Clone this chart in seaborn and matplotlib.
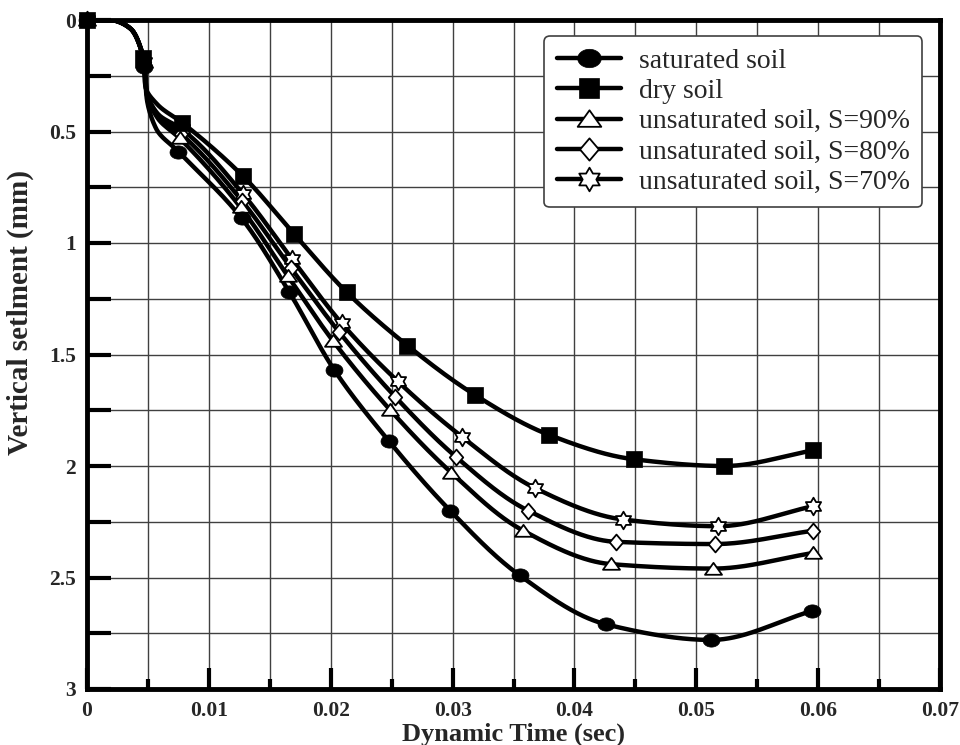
import numpy as np
import pandas as pd
import matplotlib
matplotlib.use("Agg")
import matplotlib.pyplot as plt
from matplotlib.lines import Line2D
from matplotlib.path import Path
from matplotlib.ticker import MultipleLocator, FuncFormatter
import seaborn as sns

# ---------------- data ----------------
labels = ["saturated soil", "dry soil", "unsaturated soil, S=90%",
          "unsaturated soil, S=80%", "unsaturated soil, S=70%"]

# marker points (time in s, settlement in mm)
sat_x = [0, 0.0047, 0.0075, 0.0127, 0.0166, 0.0203, 0.0248, 0.0298, 0.0355, 0.0426, 0.0512, 0.0595]
sat_y = [0, 0.21, 0.59, 0.89, 1.22, 1.57, 1.89, 2.20, 2.49, 2.71, 2.78, 2.65]
dry_x = [0, 0.0046, 0.0078, 0.0128, 0.0170, 0.0213, 0.0263, 0.0318, 0.0379, 0.0449, 0.0523, 0.0596]
dry_y = [0, 0.17, 0.46, 0.70, 0.96, 1.22, 1.46, 1.68, 1.86, 1.97, 2.00, 1.93]
s90_x = [0, 0.0047, 0.0076, 0.0126, 0.0165, 0.0202, 0.0249, 0.0299, 0.0358, 0.0430, 0.0514, 0.0596]
s90_y = [0, 0.19, 0.53, 0.84, 1.15, 1.44, 1.75, 2.03, 2.29, 2.44, 2.46, 2.39]
s80_x = [0, 0.0047, 0.0077, 0.0127, 0.0167, 0.0207, 0.0253, 0.0303, 0.0362, 0.0434, 0.0515, 0.0596]
s80_y = [0, 0.19, 0.51, 0.81, 1.11, 1.40, 1.69, 1.96, 2.20, 2.34, 2.35, 2.29]
s70_x = [0, 0.0047, 0.0078, 0.0128, 0.0168, 0.0209, 0.0255, 0.0308, 0.0368, 0.0440, 0.0518, 0.0596]
s70_y = [0, 0.19, 0.49, 0.78, 1.07, 1.36, 1.62, 1.87, 2.10, 2.24, 2.27, 2.18]

# extra traced line points (unmarked part of the curves)
onset_x = [0.0019, 0.0036, 0.0043]        # shared onset of settlement
onset_y = [0.0, 0.04, 0.11]
knee_x = {"sat": [0.0049, 0.0057], "dry": [0.0048, 0.0058], "s90": [0.0049, 0.0058],
          "s80": [0.0049, 0.0058], "s70": [0.0049, 0.0058]}
knee_y = {"sat": [0.35, 0.49], "dry": [0.30, 0.38], "s90": [0.33, 0.44],
          "s80": [0.33, 0.43], "s70": [0.32, 0.42]}

series = {
    "sat": (sat_x, sat_y),
    "dry": (dry_x, dry_y),
    "s90": (s90_x, s90_y),
    "s80": (s80_x, s80_y),
    "s70": (s70_x, s70_y),
}
keys = ["sat", "dry", "s90", "s80", "s70"]

# ---------------- helpers: shape-preserving smoothing of a traced line ----------------
def pchip_slopes(t, v):
    t = np.asarray(t, float); v = np.asarray(v, float)
    h = np.diff(t); d = np.diff(v) / h
    n = len(t); m = np.zeros(n)
    for k in range(1, n - 1):
        if d[k - 1] * d[k] <= 0:
            m[k] = 0.0
        else:
            w1 = 2 * h[k] + h[k - 1]; w2 = h[k] + 2 * h[k - 1]
            m[k] = (w1 + w2) / (w1 / d[k - 1] + w2 / d[k])
    m[0] = d[0]; m[-1] = d[-1]
    return m

def pchip_eval(t, v, ts):
    t = np.asarray(t, float); v = np.asarray(v, float)
    m = pchip_slopes(t, v)
    idx = np.clip(np.searchsorted(t, ts) - 1, 0, len(t) - 2)
    h = t[idx + 1] - t[idx]
    s = (ts - t[idx]) / h
    h00 = 2 * s**3 - 3 * s**2 + 1; h10 = s**3 - 2 * s**2 + s
    h01 = -2 * s**3 + 3 * s**2; h11 = s**3 - s**2
    return h00 * v[idx] + h10 * h * m[idx] + h01 * v[idx + 1] + h11 * h * m[idx + 1]

def smooth(x, y, n=600):
    x = np.asarray(x, float); y = np.asarray(y, float)
    X = x / 0.07 * 853; Y = y / 3 * 669
    t = np.concatenate([[0], np.cumsum(np.hypot(np.diff(X), np.diff(Y)))])
    ts = np.linspace(0, t[-1], n)
    return pchip_eval(t, x, ts), pchip_eval(t, y, ts)

rows = []
for k in keys:
    mx, my = series[k]
    lx = [mx[0]] + onset_x + [mx[1]] + knee_x[k] + list(mx[2:])
    ly = [my[0]] + onset_y + [my[1]] + knee_y[k] + list(my[2:])
    sx, sy = smooth(lx, ly)
    rows.append(pd.DataFrame({"x": sx, "y": sy, "series": k}))
curves = pd.concat(rows, ignore_index=True)

# ---------------- marker shapes (closed paths) ----------------
def closed(verts):
    verts = list(verts) + [verts[0]]
    return Path(verts, closed=True)

ang = np.linspace(0, 2 * np.pi, 40, endpoint=False)
ellipse = closed(list(zip(np.cos(ang), 0.78 * np.sin(ang))))
triangle = closed([(-1, -0.62), (1, -0.62), (0, 0.78)])
diamond = closed([(0, 1), (0.85, 0), (0, -1), (-0.85, 0)])
star_v = []
for i in range(12):
    a = np.pi / 2 + i * np.pi / 6
    r = 1.0 if i % 2 == 0 else 0.58
    star_v.append((r * np.cos(a), r * np.sin(a)))
star = closed(star_v)

style = {
    "sat": dict(marker=ellipse, s=150, fc="black", lw=0.5),
    "dry": dict(marker="s", s=120, fc="black", lw=0.5),
    "s90": dict(marker=triangle, s=150, fc="white", lw=1.3),
    "s80": dict(marker=diamond, s=130, fc="white", lw=1.3),
    "s70": dict(marker=star, s=160, fc="white", lw=1.3),
}
leg_ms = {"sat": 17, "dry": 15, "s90": 17, "s80": 16, "s70": 17}

# ---------------- plot ----------------
sns.set_theme(style="white")
plt.rcParams["font.family"] = ["Liberation Serif", "DejaVu Serif"]

fig = plt.figure(figsize=(9.6, 7.45), dpi=100)
ax = fig.add_axes([87 / 960, 1 - 689 / 745, 853 / 960, 669 / 745])

sns.lineplot(data=curves, x="x", y="y", units="series", estimator=None, sort=False,
             color="black", lw=3.2, legend=False, ax=ax, zorder=3)

draw_order = ["s70", "s80", "s90", "sat", "dry"]
for k in draw_order:
    mx, my = series[k]
    st = style[k]
    sns.scatterplot(x=mx, y=my, marker=st["marker"], s=st["s"], color=st["fc"],
                    edgecolor="black", linewidth=st["lw"], ax=ax, zorder=4,
                    clip_on=False, legend=False)

ax.set_xlim(0, 0.07)
ax.set_ylim(3, 0)
ax.xaxis.set_major_locator(MultipleLocator(0.01))
ax.xaxis.set_minor_locator(MultipleLocator(0.005))
ax.yaxis.set_major_locator(MultipleLocator(0.5))
ax.yaxis.set_minor_locator(MultipleLocator(0.25))
fmt = FuncFormatter(lambda v, p: "%g" % round(v, 4))
ax.xaxis.set_major_formatter(fmt)
ax.yaxis.set_major_formatter(fmt)

ax.grid(True, which="both", color="0.25", lw=1.0, zorder=1)
ax.set_axisbelow(True)

for sp in ax.spines.values():
    sp.set_visible(True)
    sp.set_color("black")
    sp.set_linewidth(3.5)

ax.tick_params(axis="x", which="major", direction="in", length=15, width=3, bottom=True,
               top=False, labelsize=15.5, pad=9, color="black")
ax.tick_params(axis="x", which="minor", direction="in", length=7.5, width=3, bottom=True,
               top=False, color="black")
ax.tick_params(axis="y", which="both", direction="in", length=17, width=3, left=True,
               right=False, labelsize=15.5, pad=8, color="black")
for lab in ax.get_xticklabels() + ax.get_yticklabels():
    lab.set_fontweight("bold")

ax.set_xlabel("Dynamic Time (sec)", fontsize=19, fontweight="bold", labelpad=1)
ax.set_ylabel("Vertical setlment (mm)", fontsize=21, fontweight="bold")
ax.yaxis.set_label_coords(-0.062, 0.5635)

handles = []
for k in keys:
    st = style[k]
    handles.append(Line2D([], [], color="black", lw=3.2, marker=st["marker"],
                          markersize=leg_ms[k], markerfacecolor=st["fc"],
                          markeredgecolor="black", markeredgewidth=st["lw"]))
leg = ax.legend(handles, labels, loc="upper right", bbox_to_anchor=(0.979, 0.976),
                borderaxespad=0, frameon=True, fancybox=True, fontsize=20,
                handlelength=2.3, handletextpad=0.65, labelspacing=0.17,
                borderpad=0.45, numpoints=1, framealpha=1)
leg.get_frame().set_edgecolor("0.25")
leg.get_frame().set_linewidth(1.2)
leg.set_zorder(5)

fig.savefig("out.png", dpi=100)
